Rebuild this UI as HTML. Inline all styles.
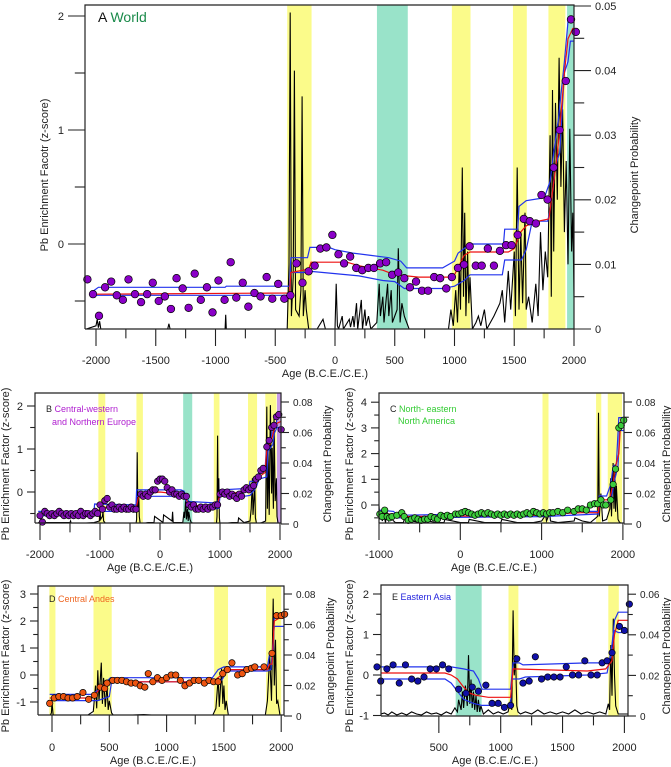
<!DOCTYPE html>
<html><head><meta charset="utf-8"><style>
body{margin:0;background:#fff;width:671px;height:767px;overflow:hidden}
svg{display:block;font-family:"Liberation Sans",sans-serif}
</style></head><body>
<svg id="fig" width="671" height="767" viewBox="0 0 671 767"></svg>
<script>
// ---------- DATA: Panel A (World) ----------
const aPtYears=[-2072,-2025,-1975,-1924,-1873,-1826,-1775,-1728,-1674,-1623,-1572,-1525,-1475,-1424,-1373,-1326,-1275,-1225,-1174,-1123,-1072,-1025,-975,-924,-873,-826,-772,-725,-674,-623,-572,-525,-475,-424,-373,-322,-272,-221,-170,-123,-72,-22,29,76,127,178,228,279,326,377,428,478,529,580,627,678,728,779,830,880,931,978,1029,1080,1127,1178,1228,1279,1330,1380,1431,1478,1529,1580,1630,1681,1728,1779,1830,1880,1931,1975,2015];
const aPtVals=[-0.31,-0.44,-0.63,-0.38,-0.33,-0.45,-0.49,-0.31,-0.44,-0.51,-0.44,-0.34,-0.5,-0.46,-0.57,-0.3,-0.39,-0.56,-0.26,-0.49,-0.38,-0.6,-0.32,-0.49,-0.16,-0.47,-0.34,-0.55,-0.43,-0.46,-0.29,-0.48,-0.35,-0.48,-0.45,-0.17,-0.34,-0.24,-0.19,-0.04,-0.03,0.08,-0.09,-0.17,-0.11,-0.21,-0.23,-0.21,-0.21,-0.17,-0.16,-0.27,-0.25,-0.3,-0.38,-0.33,-0.41,-0.41,-0.29,-0.3,-0.39,-0.29,-0.21,-0.18,-0.02,-0.19,-0.19,-0.04,-0.19,-0.06,-0.01,-0.01,0.08,0.22,0.2,0.18,0.43,0.39,0.67,1.0,1.43,1.97,1.86];
const aRedYears=[-2020,-380,-370,-220,-200,100,200,400,500,600,700,950,1000,1080,1130,1450,1500,1550,1600,1700,1790,1800,1850,1880,1920,1950,1990,2030];
const aRedVals=[-0.44,-0.43,-0.25,-0.22,-0.16,-0.16,-0.19,-0.23,-0.27,-0.28,-0.29,-0.29,-0.27,-0.1,-0.07,-0.07,-0.04,0.1,0.16,0.2,0.22,0.3,0.7,1.0,1.5,1.8,1.89,1.89];
const aUpYears=[-2020,-1980,-920,-910,-380,-370,-230,-210,-50,0,150,300,450,550,600,900,1000,1030,1130,1410,1420,1530,1540,1600,1720,1760,1800,1830,1870,1900,1920,1950,2030];
const aUpVals=[-0.41,-0.38,-0.38,-0.37,-0.37,-0.12,-0.12,-0.03,-0.03,-0.05,-0.08,-0.1,-0.12,-0.15,-0.21,-0.21,-0.15,-0.08,0.0,0.0,0.13,0.13,0.33,0.38,0.4,0.43,0.55,0.8,1.1,1.4,1.6,1.95,1.95];
const aLoYears=[-2020,-380,-370,-230,-200,0,200,400,500,580,900,1000,1080,1130,1400,1420,1560,1600,1650,1780,1800,1850,1880,1920,1950,1970,2030];
const aLoVals=[-0.45,-0.45,-0.25,-0.25,-0.24,-0.26,-0.28,-0.32,-0.33,-0.39,-0.39,-0.37,-0.32,-0.27,-0.27,-0.14,-0.14,-0.05,0.2,0.2,0.3,0.7,0.8,1.5,1.6,1.78,1.78];
const aProbYears=[-2080,-2000,-1990,-1980,-1970,-1960,-1400,-1390,-1380,-920,-915,-910,-400,-385,-375,-365,-350,-340,-330,-300,-285,-275,-265,-250,-240,-220,-150,-100,-80,0,10,20,30,60,70,120,130,150,160,180,190,220,230,250,260,280,300,350,370,380,400,410,440,450,470,480,520,530,545,560,580,600,620,950,970,990,1010,1025,1040,1050,1065,1075,1085,1095,1110,1120,1130,1150,1180,1200,1220,1250,1270,1330,1380,1400,1420,1450,1470,1500,1510,1525,1540,1555,1570,1590,1600,1620,1650,1680,1700,1720,1740,1760,1780,1800,1810,1820,1830,1845,1860,1875,1890,1905,1920,1935,1950,1965,1980,1990,2000,2010];
const aProbVals=[0,0.0005,0.0015,0.0002,0.0012,0,0,0.0008,0,0,0.0022,0,0,0.01,0.049,0.002,0.008,0.04,0.003,0.002,0.006,0.036,0.002,0.006,0.003,0,0,0.0015,0,0,0.007,0.0005,0,0.002,0,0.0015,0.0003,0.002,0.0003,0.004,0,0.0045,0,0.003,0.0005,0.002,0,0.001,0.007,0.002,0.005,0.001,0.007,0.002,0.006,0.001,0.003,0.0125,0.001,0.004,0.002,0.001,0,0,0.003,0.0005,0.006,0.001,0.01,0.003,0.025,0.005,0.018,0.002,0.012,0.004,0.008,0,0.001,0.002,0.0005,0.003,0,0.002,0.004,0.006,0.001,0.009,0.003,0.012,0.002,0.025,0.003,0.015,0.004,0.018,0.003,0.005,0.001,0.007,0.002,0.015,0.006,0.012,0.008,0.03,0.005,0.037,0.012,0.035,0.02,0.042,0.022,0.034,0.015,0.026,0.01,0.031,0.012,0.018,0.005,0];
const aBandStart=[-400,351,978,1489,1786,1942];
const aBandEnd=[-196,609,1134,1605,1928,2040];
const aBandKind=["y","t","y","y","y","t"];
const aXTicks=[-2000,-1500,-1000,-500,0,500,1000,1500,2000];
const aYTicks=[0,1,2];
const aPTicks=[0,0.01,0.02,0.03,0.04,0.05];

// ---------- DATA: Panel B (Europe) ----------
const bPtYears=[-2000,-1960,-1920,-1880,-1840,-1800,-1760,-1720,-1680,-1640,-1600,-1560,-1520,-1480,-1440,-1400,-1360,-1320,-1280,-1240,-1200,-1160,-1120,-1080,-1040,-1000,-960,-920,-880,-840,-800,-760,-720,-680,-640,-600,-560,-520,-480,-440,-400,-320,-280,-240,-200,-160,-120,-80,-40,0,40,80,120,160,200,240,280,320,360,400,440,480,520,560,600,640,680,720,760,800,840,880,920,960,1000,1040,1080,1120,1160,1200,1240,1280,1320,1360,1400,1440,1480,1520,1560,1600,1640,1680,1720,1780,1820,1860,1900,1940,1980,2020];
const bPtVals=[-0.55,-0.7,-0.45,-0.5,-0.55,-0.5,-0.55,-0.5,-0.45,-0.5,-0.55,-0.5,-0.55,-0.5,-0.55,-0.5,-0.55,-0.45,-0.55,-0.5,-0.5,-0.55,-0.5,-0.45,-0.5,-0.3,-0.4,-0.2,-0.15,-0.35,-0.3,-0.4,-0.4,-0.35,-0.4,-0.35,-0.4,-0.4,-0.35,-0.4,-0.4,-0.05,-0.1,-0.05,-0.1,0,0.05,0.05,0.25,0.3,0.3,0.25,0.1,0,0.05,-0.05,-0.05,-0.1,-0.05,-0.1,-0.1,-0.3,-0.35,-0.3,-0.4,-0.4,-0.35,-0.4,-0.35,-0.4,-0.35,-0.35,-0.3,-0.3,-0.05,0,-0.05,0,-0.1,-0.05,-0.1,-0.15,-0.05,-0.1,0.05,0.1,0.05,0.1,0.15,0.3,0.35,0.5,0.55,1.05,1.2,1.5,1.55,1.75,1.8,1.45];
const bRedYears=[-2030,-1100,-950,-400,-350,0,300,400,480,900,960,1000,1400,1500,1600,1650,1750,1780,1850,1900,1950,2030];
const bRedVals=[-0.5,-0.5,-0.35,-0.4,-0.05,0,-0.05,-0.05,-0.3,-0.35,-0.3,-0.05,0,0.1,0.2,0.35,0.45,1.0,1.15,1.45,1.6,1.65];
const bUpYears=[-2030,-1100,-1090,-400,-390,350,400,480,900,980,1000,1400,1480,1500,1640,1650,1750,1780,1850,1880,1940,1950,2030];
const bUpVals=[-0.45,-0.45,-0.28,-0.3,0.05,0.05,0.02,-0.22,-0.25,-0.2,0.05,0.08,0.1,0.25,0.25,0.5,0.5,1.15,1.2,1.55,1.6,1.75,1.75];
const bLoYears=[-2030,-1000,-990,-400,-390,400,480,900,980,1000,1400,1500,1600,1650,1780,1800,1880,1900,1950,2030];
const bLoVals=[-0.55,-0.55,-0.45,-0.45,-0.1,-0.1,-0.35,-0.4,-0.38,-0.1,-0.1,-0.08,0.1,0.3,0.35,0.95,1.1,1.35,1.5,1.5];
const bProbYears=[-2030,-1500,-1490,-1480,-1100,-1010,-1000,-990,-960,-950,-940,-900,-400,-390,-380,-370,-355,-345,-330,-200,-100,-90,50,60,200,210,220,380,400,410,430,440,460,470,480,500,520,600,940,950,960,970,980,990,1000,1200,1300,1310,1400,1500,1520,1540,1550,1580,1590,1610,1700,1760,1780,1790,1800,1820,1840,1860,1870,1890,1900,1920,1940,1950,1970,2030];
const bProbVals=[0.001,0.001,0.002,0,0.001,0.002,0.012,0.003,0.005,0.008,0.002,0,0,0.003,0.047,0.01,0.02,0.005,0,0.001,0.001,0.005,0.001,0.006,0.002,0.008,0.001,0.001,0.008,0.004,0.018,0.003,0.01,0.002,0.008,0.003,0.001,0,0,0.005,0.058,0.01,0.03,0.004,0,0.001,0.001,0.004,0.001,0.002,0.01,0.03,0.006,0.025,0.004,0,0.001,0.002,0.077,0.01,0.05,0.006,0.078,0.02,0.05,0.01,0.07,0.015,0.03,0.005,0,0];
const bBandStart=[-1027,-393,386,897,1467,1755];
const bBandEnd=[-912,-285,537,991,1618,1942];
const bBandKind=["y","y","t","y","y","y"];
const bXTicks=[-2000,-1000,0,1000,2000];
const bYTicks=[0,1,2];
const bPTicks=[0,0.02,0.04,0.06,0.08];

// ---------- DATA: Panel C (North America) ----------
const cPtYears=[-990,-960,-930,-900,-870,-840,-780,-720,-690,-640,-600,-560,-520,-480,-440,-400,-360,-320,-280,-240,-200,-160,-120,-60,-20,20,60,100,140,180,220,260,300,340,380,420,460,500,540,580,620,660,700,740,780,820,860,900,940,980,1020,1060,1100,1140,1200,1260,1320,1400,1450,1500,1550,1600,1650,1690,1730,1760,1790,1850,1880,1910,1950,1980,2010];
const cPtVals=[-0.35,-0.45,-0.2,-0.45,-0.5,-0.45,-0.4,-0.3,-0.45,-0.6,-0.55,-0.5,-0.55,-0.6,-0.55,-0.55,-0.45,-0.5,-0.55,-0.4,-0.45,-0.4,-0.45,-0.35,-0.35,-0.3,-0.25,-0.3,-0.35,-0.4,-0.35,-0.3,-0.35,-0.3,-0.35,-0.4,-0.35,-0.4,-0.35,-0.4,-0.35,-0.4,-0.35,-0.4,-0.35,-0.3,-0.35,-0.25,-0.3,-0.35,-0.3,-0.35,-0.3,-0.3,-0.25,-0.3,-0.2,-0.25,-0.15,-0.15,-0.2,0,0.05,0.05,0.2,0,0,0.2,0.8,1.4,3.0,3.1,3.3];
const cRedYears=[-1000,-820,-780,1000,1100,1500,1700,1710,1800,1840,1880,1900,1950,1970,2010];
const cRedVals=[-0.35,-0.35,-0.45,-0.4,-0.35,-0.3,-0.3,0.2,0.2,0.3,0.8,1.4,2.0,3.1,3.1];
const cUpYears=[-1000,-820,-780,1000,1500,1700,1710,1800,1850,1880,1920,1950,2010];
const cUpVals=[-0.2,-0.25,-0.4,-0.3,-0.25,-0.25,0.35,0.35,0.8,1.5,1.6,3.4,3.4];
const cLoYears=[-1000,-800,1000,1700,1710,1800,1850,1900,1940,1960,2010];
const cLoVals=[-0.45,-0.5,-0.45,-0.35,0,0.05,0.1,1.0,1.5,2.9,2.9];
const cProbYears=[-1000,-990,-980,-960,-940,-920,-900,-880,-860,-800,-700,-690,-500,-490,-300,-200,-190,0,100,110,300,500,510,700,900,1000,1050,1060,1100,1110,1200,1400,1410,1500,1600,1690,1700,1710,1730,1750,1800,1840,1850,1860,1880,1890,1900,1910,1920,1940,1960,2010];
const cProbVals=[0.012,0.003,0.008,0.002,0.006,0.001,0.008,0.002,0.004,0.001,0.001,0.003,0.001,0.003,0.001,0.001,0.003,0.001,0.001,0.003,0.001,0.001,0.003,0.001,0.001,0.002,0.006,0.002,0.007,0.002,0.001,0.002,0.004,0.002,0.001,0.005,0.073,0.005,0.02,0.002,0.003,0.01,0.03,0.005,0.04,0.01,0.035,0.008,0.025,0.003,0.001,0];
const cBandStart=[1011,1670,1814];
const cBandEnd=[1085,1734,1989];
const cBandKind=["y","y","y"];
const cXTicks=[-1000,0,1000,2000];
const cYTicks=[0,1,2,3,4];
const cPTicks=[0,0.02,0.04,0.06,0.08];

// ---------- DATA: Panel D (Central Andes) ----------
const dPtYears=[-20,20,60,100,140,180,220,270,320,370,420,460,480,530,570,610,650,690,730,770,810,840,880,920,960,1000,1040,1080,1120,1160,1200,1240,1280,1330,1370,1410,1450,1490,1530,1570,1620,1660,1700,1740,1770,1850,1920,1960,2000,2030];
const dPtVals=[-1.05,-0.85,-0.8,-0.8,-0.85,-0.85,-0.8,-0.65,-0.9,-0.75,-0.45,-0.5,-0.3,-0.2,-0.2,-0.2,-0.25,-0.3,-0.3,-0.4,-0.45,0.05,-0.25,-0.1,-0.2,-0.1,0,0,-0.2,-0.4,-0.3,-0.2,-0.2,-0.3,-0.2,-0.25,-0.25,0.05,0.2,0.45,0,0.05,0.2,0.25,0.3,0.3,0.8,2.2,2.2,2.25];
const dRedYears=[-20,350,400,480,1400,1480,1500,1880,1900,1920,1940,1980,2030];
const dRedVals=[-0.85,-0.85,-0.6,-0.25,-0.25,0,0.2,0.2,0.4,0.4,2.0,2.1,2.1];
const dUpYears=[-20,350,420,510,1400,1450,1500,1880,1900,1930,1940,2030];
const dUpVals=[-0.72,-0.72,-0.5,-0.1,-0.1,0.2,0.3,0.3,0.8,0.8,2.2,2.2];
const dLoYears=[-20,400,500,520,1420,1480,1530,1880,1910,1940,2030];
const dLoVals=[-0.95,-0.95,-0.8,-0.25,-0.25,-0.2,0.15,0.15,0.2,1.8,1.8];
const dProbYears=[-20,-5,0,10,30,300,360,380,390,400,410,430,440,450,465,480,490,500,520,540,800,1000,1400,1430,1450,1460,1480,1490,1500,1510,1520,1540,1860,1880,1900,1915,1930,1940,1950,1960,1970,1990,2030];
const dProbVals=[0,0.002,0.009,0.001,0,0,0.003,0.02,0.005,0.03,0.01,0.035,0.008,0.025,0.006,0.02,0.004,0.01,0.002,0,0.001,0,0,0.005,0.025,0.006,0.031,0.008,0.02,0.004,0.01,0,0,0.01,0.04,0.01,0.077,0.02,0.05,0.008,0.01,0,0];
const dBandStart=[-23,362,1415,1868];
const dBandEnd=[30,521,1536,2000];
const dBandKind=["y","y","y","y"];
const dXTicks=[0,500,1000,1500,2000];
const dYTicks=[-1,0,1,2,3];
const dPTicks=[0,0.02,0.04,0.06,0.08];

// ---------- DATA: Panel E (Eastern Asia) ----------
const ePtYears=[0,30,80,130,180,230,280,330,380,430,480,530,580,660,720,770,820,880,930,980,1030,1080,1130,1180,1230,1280,1330,1380,1430,1480,1530,1580,1630,1680,1730,1780,1820,1860,1900,1960,2000,2040];
const ePtVals=[0.2,-0.15,0.15,0.25,-0.2,0.25,-0.1,-0.15,-0.05,0.15,0.15,0.25,0.15,-0.35,-0.45,-0.3,-0.4,-0.25,-0.7,-0.7,-0.8,-0.75,0.4,-0.2,-0.15,0.45,-0.1,-0.05,-0.05,-0.05,0.2,0,0,0.35,0,0,0.3,0.35,0.55,1.2,1.1,1.75];
const eRedYears=[0,550,600,650,700,750,800,900,1080,1100,1700,1850,1900,1920,1950,2040];
const eRedVals=[0.05,0.05,0,-0.1,-0.3,-0.45,-0.5,-0.55,-0.55,0.15,0.1,0.15,0.35,1.0,1.35,1.35];
const eUpYears=[0,10,600,700,780,820,850,1080,1100,1150,1180,1700,1860,1890,1920,1950,2040];
const eUpVals=[0.3,0.2,0.2,0.15,0.1,-0.1,-0.35,-0.35,0.3,0.3,0.25,0.3,0.3,0.45,1.35,1.55,1.55];
const eLoYears=[0,550,600,650,700,780,850,1080,1090,1150,1200,1700,1860,1920,1950,2040];
const eLoVals=[-0.1,-0.1,-0.2,-0.4,-0.6,-0.7,-0.75,-0.75,-0.1,-0.1,-0.05,0,0.05,1.1,1.05,1.05];
const eProbYears=[0,10,30,60,90,120,160,200,240,280,320,360,400,440,480,520,560,600,630,650,660,680,690,700,715,730,740,750,760,770,780,790,800,810,820,830,840,860,900,940,980,1020,1060,1080,1090,1100,1110,1120,1130,1140,1160,1200,1250,1300,1350,1400,1450,1500,1550,1600,1650,1700,1750,1800,1850,1870,1880,1890,1900,1910,1920,1930,1950,1990,2040];
const eProbVals=[0.002,0.0005,0.001,0.0015,0.0005,0.002,0.0005,0.0015,0.0005,0.002,0.001,0.0005,0.002,0.001,0.0015,0.0005,0.002,0.001,0.004,0.002,0.008,0.003,0.012,0.004,0.015,0.005,0.03,0.006,0.018,0.004,0.012,0.003,0.01,0.002,0.008,0.002,0.005,0.001,0.003,0.001,0.002,0.001,0.002,0.008,0.003,0.052,0.02,0.03,0.005,0.002,0.001,0.002,0.001,0.003,0.001,0.002,0.001,0.002,0.001,0.003,0.001,0.002,0.001,0.002,0.001,0.006,0.003,0.035,0.01,0.048,0.02,0.005,0.001,0.001,0.001];
const eBandStart=[636,1063,1870];
const eBandEnd=[846,1143,1955];
const eBandKind=["t","y","y"];
const eXTicks=[500,1000,1500,2000];
const eYTicks=[-1,0,1,2];
const ePTicks=[0,0.02,0.04,0.06];

// ---------- RENDERING ----------
const NS="http://www.w3.org/2000/svg";
const svg=document.getElementById('fig');
function mk(tag,attrs,parent){const e=document.createElementNS(NS,tag);for(const k in attrs)e.setAttribute(k,attrs[k]);(parent||svg).appendChild(e);return e;}
let clipId=0;
function panel(cfg){
  const g=mk('g',{});
  
  
  const X=v=>cfg.x0+(v-cfg.xv0)*cfg.xs;
  const Y=v=>cfg.y0-v*cfg.ys;
  const P=v=>cfg.p0-v*cfg.ps;
  const L=cfg.l,R=cfg.r,T=cfg.t,B=cfg.b;
  const cid='clip'+(clipId++);
  const cp=mk('clipPath',{id:cid},g);mk('rect',{x:L,y:T,width:R-L,height:B-T},cp);
  const inner=mk('g',{'clip-path':'url(#'+cid+')'},g);
  cfg.bs.forEach((s,i)=>{
    const col=cfg.bk[i]==='t'?'#99e3c9':'#fbfb8a';
    const r=mk('rect',{x:X(s),y:T,width:X(cfg.be[i])-X(s),height:B-T,fill:col},inner);
    
    
  });
  if(cfg.extra){const r=mk('rect',{x:X(cfg.extra[0]),y:T,width:X(cfg.extra[1])-X(cfg.extra[0]),height:B-T,fill:'#c79be6'},inner);
    
    }
  const pp=cfg.py.map((y,i)=>X(y).toFixed(1)+','+P(cfg.pv[i]).toFixed(1)).join(' ');
  const pl=mk('polyline',{points:pp,fill:'none',stroke:'#000','stroke-width':1.1},inner);
  
  
  const line=(ys,vs,col,nm)=>{const e=mk('polyline',{points:ys.map((y,i)=>X(y).toFixed(1)+','+Y(vs[i]).toFixed(1)).join(' '),fill:'none',stroke:col,'stroke-width':1.2},inner);
    
    };
  line(cfg.uy,cfg.uv,'#2233ee','upper-credible-line');
  line(cfg.ly,cfg.lv,'#2233ee','lower-credible-line');
  line(cfg.ry,cfg.rv,'#ee1111','mean-fit-line');
  cfg.ptY.forEach((y,i)=>{const c=mk('circle',{cx:X(y),cy:Y(cfg.ptV[i]),r:cfg.pr,fill:cfg.pc,stroke:'#000','stroke-width':0.7},g);
    
    });
  mk('path',{d:`M${L},${B}V${T}H${R}V${B}H${L}`,fill:'none',stroke:'#222','stroke-width':1.2},g);
  const xa=mk('g',{},g);
  
  
  cfg.xt.forEach((v,i)=>{
    mk('line',{x1:X(v),x2:X(v),y1:B,y2:B+cfg.tl,stroke:'#222','stroke-width':1.1},xa);
    if(i<cfg.xt.length-1){const m=(v+cfg.xt[i+1])/2;mk('line',{x1:X(m),x2:X(m),y1:B,y2:B+cfg.tl*0.55,stroke:'#222','stroke-width':1.1},xa);}
    const t=mk('text',{x:X(v),y:cfg.xly,'text-anchor':'middle','font-size':cfg.fs,fill:'#222'},xa);t.textContent=v;
  });
  const xt=mk('text',{x:cfg.xtx,y:cfg.xty,'text-anchor':'middle','font-size':cfg.fs,fill:'#222'},g);xt.textContent='Age (B.C.E./C.E.)';
  
  
  const ya=mk('g',{},g);
  
  
  const ytl=cfg.ytl;
  cfg.yt.forEach((v,i)=>{
    mk('line',{x1:L-ytl,x2:L,y1:Y(v),y2:Y(v),stroke:'#222','stroke-width':1.1},ya);
    const m=v-0.5*(cfg.yt[1]-cfg.yt[0]);if(Y(m)<B-1)mk('line',{x1:L-ytl*0.6,x2:L,y1:Y(m),y2:Y(m),stroke:'#222','stroke-width':1.1},ya);
    if(i==cfg.yt.length-1){const m2=v+0.5*(cfg.yt[1]-cfg.yt[0]);if(Y(m2)>T+1)mk('line',{x1:L-ytl*0.6,x2:L,y1:Y(m2),y2:Y(m2),stroke:'#222','stroke-width':1.1},ya);}
    const t=mk('text',{x:L-ytl-4,y:Y(v)+cfg.fs*0.35,'text-anchor':'end','font-size':cfg.fs,fill:'#222'},ya);t.textContent=v;
  });
  const yt=mk('text',{x:0,y:0,'text-anchor':'middle','font-size':cfg.fs,fill:'#222',transform:`translate(${cfg.ytx},${cfg.yty}) rotate(-90)`},g);yt.textContent=cfg.ytitle;
  
  
  const pa=mk('g',{},g);
  
  
  const step=cfg.pt[1]-cfg.pt[0];
  cfg.pt.forEach((v,i)=>{
    mk('line',{x1:R,x2:R+ytl,y1:P(v),y2:P(v),stroke:'#222','stroke-width':1.1},pa);
    if(i<cfg.pt.length-1)mk('line',{x1:R,x2:R+ytl*0.6,y1:P(v+step/2),y2:P(v+step/2),stroke:'#222','stroke-width':1.1},pa);
    const t=mk('text',{x:R+ytl+4,y:P(v)+cfg.fs*0.35,'font-size':cfg.pfs||cfg.fs,fill:'#222'},pa);t.textContent=v===0?'0':v.toFixed(2);
  });
  const pt=mk('text',{x:0,y:0,'text-anchor':'middle','font-size':cfg.fs,fill:'#222',transform:`translate(${cfg.ptx},${cfg.pty}) rotate(-90)`},g);pt.textContent='Changepoint Probability';
  
  
  return g;
}
const fsS=11;
panel({name:'panel-a-world',x0:96,xv0:-2000,xs:0.1195,y0:244,ys:114,p0:329,ps:6460,l:85,r:574,t:5,b:329,
 bs:aBandStart,be:aBandEnd,bk:aBandKind,py:aProbYears,pv:aProbVals,uy:aUpYears,uv:aUpVals,ly:aLoYears,lv:aLoVals,ry:aRedYears,rv:aRedVals,
 ptY:aPtYears,ptV:aPtVals,pr:3.8,pc:'#8a00c8',xt:aXTicks,tl:17,ytl:17,xly:364,xtx:325,xty:377,fs:11,yt:aYTicks,ytitle:'Pb Enrichment Facotr (z-score)',ytx:48,yty:175,pt:aPTicks,ptx:638,pty:175});
panel({name:'panel-b-europe',x0:40,xv0:-2000,xs:0.06,y0:492,ys:43,p0:524,ps:1525,l:35,r:281,t:393,b:523,
 bs:bBandStart,be:bBandEnd,bk:bBandKind,extra:[1950,2050],py:bProbYears,pv:bProbVals,uy:bUpYears,uv:bUpVals,ly:bLoYears,lv:bLoVals,ry:bRedYears,rv:bRedVals,
 ptY:bPtYears,ptV:bPtVals,pr:3.2,pc:'#8010b0',xt:bXTicks,tl:17,ytl:8,xly:558,xtx:150,xty:571,fs:fsS,pfs:10,yt:bYTicks,ytitle:'Pb Enrichment Factor (z-score)',ytx:9,yty:464,pt:bPTicks,ptx:331,pty:464});
panel({name:'panel-c-north-america',x0:379,xv0:-1000,xs:0.0813,y0:505,ys:25.7,p0:524,ps:1525,l:379,r:624,t:393,b:523,
 bs:cBandStart,be:cBandEnd,bk:cBandKind,py:cProbYears,pv:cProbVals,uy:cUpYears,uv:cUpVals,ly:cLoYears,lv:cLoVals,ry:cRedYears,rv:cRedVals,
 ptY:cPtYears,ptV:cPtVals,pr:3.2,pc:'#3ccc3c',xt:cXTicks,tl:17,ytl:8,xly:558,xtx:494,xty:571,fs:fsS,pfs:10,yt:cYTicks,ytitle:'Pb Enrichment Factor (z-score)',ytx:353,yty:464,pt:cPTicks,ptx:670,pty:464});
panel({name:'panel-d-central-andes',x0:52,xv0:0,xs:0.1146,y0:675,ys:27,p0:716,ps:1525,l:38,r:284,t:586,b:715,
 bs:dBandStart,be:dBandEnd,bk:dBandKind,py:dProbYears,pv:dProbVals,uy:dUpYears,uv:dUpVals,ly:dLoYears,lv:dLoVals,ry:dRedYears,rv:dRedVals,
 ptY:dPtYears,ptV:dPtVals,pr:3.2,pc:'#ee5511',xt:dXTicks,tl:17,ytl:8,xly:751,xtx:153,xty:764,fs:fsS,pfs:10,yt:dYTicks,ytitle:'Pb Enrichment Factor (z-score)',ytx:9,yty:656,pt:dPTicks,ptx:334,pty:656});
panel({name:'panel-e-eastern-asia',x0:377,xv0:0,xs:0.1237,y0:675,ys:40.5,p0:716,ps:2030,l:381,r:628,t:585,b:716,
 bs:eBandStart,be:eBandEnd,bk:eBandKind,py:eProbYears,pv:eProbVals,uy:eUpYears,uv:eUpVals,ly:eLoYears,lv:eLoVals,ry:eRedYears,rv:eRedVals,
 ptY:ePtYears,ptV:ePtVals,pr:3.2,pc:'#1010a8',xt:eXTicks,tl:17,ytl:8,xly:751,xtx:495,xty:764,fs:fsS,pfs:10,yt:eYTicks,ytitle:'Pb Enrichment Factor (z-score)',ytx:353,yty:656,pt:ePTicks,ptx:670,pty:656});
</script>
<div style="position:absolute;left:0;top:0;width:671px;height:767px;pointer-events:none;font-family:'Liberation Sans',sans-serif">
  <div style="position:absolute;left:98px;top:9px;font-size:14px;color:#111">A <span style="color:#1a8a4a">World</span></div>
  <div style="position:absolute;left:46px;top:403px;font-size:9px;color:#222;line-height:13px">B <span style="color:#b020d0">Central-western</span><br><span style="color:#b020d0;padding-left:6px">and Northern Europe</span></div>
  <div style="position:absolute;left:390px;top:403px;font-size:9px;color:#222;line-height:12px">C <span style="color:#33cc33">North- eastern</span><br><span style="color:#33cc33;padding-left:8px">North America</span></div>
  <div style="position:absolute;left:49px;top:594px;font-size:9px;color:#222">D <span style="color:#ee6622">Central Andes</span></div>
  <div style="position:absolute;left:392px;top:592px;font-size:9px;color:#222">E <span style="color:#2222dd">Eastern Asia</span></div>
</div>
</body></html>
